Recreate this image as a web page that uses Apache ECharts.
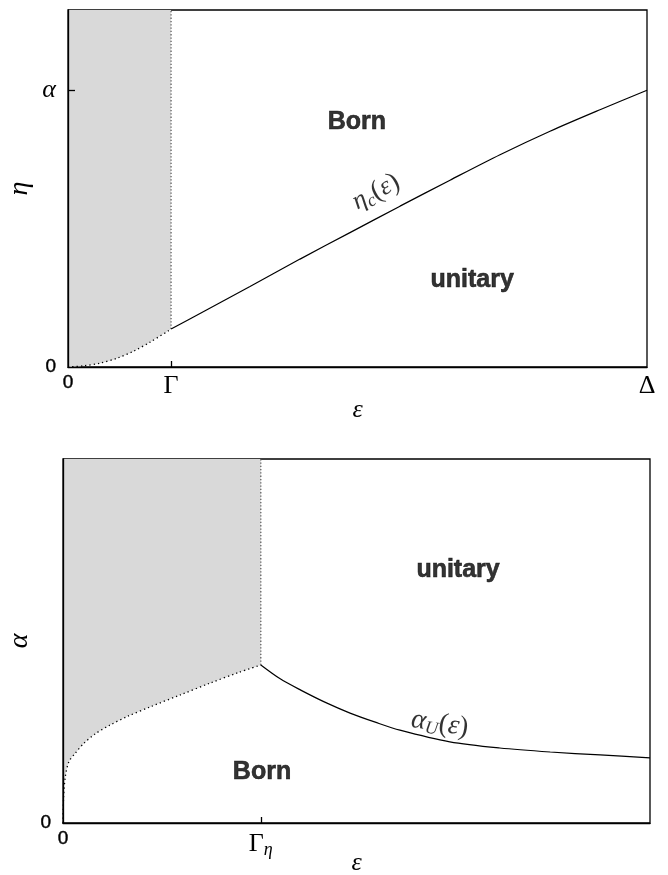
<!DOCTYPE html>
<html>
<head>
<meta charset="utf-8">
<script src="https://cdn.jsdelivr.net/npm/echarts@6/dist/echarts.min.js"></script>
<style>
html,body{margin:0;padding:0;background:#fff;}
#c{width:668px;height:875px;}
</style>
</head>
<body>
<div id="c"></div>
<script>
// ---------- Top panel data (ε in units of Δ, η in units of α) ----------
const topGamma = 0.178;
const topYMax = 1.29;
const topXTickValues = [0, topGamma, 1];
const topXTickLabels = ['0', 'Γ', 'Δ'];
const topYTickValues = [0, 1];
const topYTickLabels = ['0', 'α'];
const topShadeEps = [0, 0.026, 0.055, 0.085, 0.114, 0.142, 0.178];
const topShadeEta = [0, 0.004, 0.014, 0.032, 0.058, 0.090, 0.137];
const topCritEps = [0.178, 0.228, 0.3143, 0.4007, 0.487, 0.5734, 0.6598, 0.7461, 0.8325, 0.9188, 1.0];
const topCritEta = [0.137, 0.1931, 0.2906, 0.3899, 0.4856, 0.5812, 0.6751, 0.7671, 0.852, 0.9296, 1.0];

// ---------- Bottom panel data ----------
const botGamma = 0.337;
const botXTickValues = [0, botGamma];
const botXTickLabels = ['0', 'Γη'];
const botYTickValues = [0];
const botYTickLabels = ['0'];
const botShadeEps = [0, 0.001, 0.004, 0.01, 0.02, 0.035, 0.055, 0.08, 0.11, 0.15, 0.2, 0.25, 0.3, 0.337];
const botShadeAlpha = [0, 0.07, 0.128, 0.168, 0.19, 0.218, 0.245, 0.269, 0.293, 0.32, 0.352, 0.384, 0.414, 0.434];
const botUEps = [0.337, 0.370, 0.405, 0.446, 0.489, 0.532, 0.574, 0.659, 0.744, 0.830, 0.915, 1.0];
const botUAlpha = [0.434, 0.396, 0.365, 0.332, 0.302, 0.277, 0.255, 0.223, 0.206, 0.195, 0.187, 0.179];

const zip = (a, b) => a.map((v, i) => [v, b[i]]);
const SERIF = '"Liberation Serif", "DejaVu Serif", serif';
const SANS = '"Liberation Sans", Arial, sans-serif';

const rich = {
  n: {fontFamily: SANS, fontSize: 19, color: '#000', textBorderColor: '#000', textBorderWidth: 0.4},
  g: {fontFamily: SERIF, fontSize: 26, color: '#000'},
  m: {fontFamily: SERIF, fontStyle: 'italic', fontSize: 26, color: '#000'},
  a: {fontFamily: SERIF, fontStyle: 'italic', fontSize: 28, color: '#000'},
  s: {fontFamily: SERIF, fontStyle: 'italic', fontSize: 18, color: '#000', verticalAlign: 'bottom', padding: [12, 0, 0, 0]},
  p: {fontFamily: SERIF, fontSize: 28, color: '#000'},
  b: {fontFamily: SANS, fontWeight: 'bold', fontSize: 25, color: '#000', textBorderColor: '#000', textBorderWidth: 0.6}
};

function fmt(values, labels) {
  return function (v) {
    for (let i = 0; i < values.length; i++) {
      if (Math.abs(values[i] - v) < 1e-6) {
        const t = labels[i];
        if (t === '0') return '{n|0}';
        if (t === 'α') return '{m|α}';
        if (t === 'Γη') return '{g|Γ}{s|η}';
        return '{g|' + t + '}';
      }
    }
    return '';
  };
}

function xAxis(gridIndex, max, tickVals, labelVals, labels) {
  return {
    type: 'value', gridIndex, min: 0, max, z: 10,
    axisLine: {show: true, onZero: false, lineStyle: {color: '#000', width: 1.3}},
    splitLine: {show: false},
    axisTick: {show: true, inside: true, length: 6, customValues: tickVals, lineStyle: {color: '#000', width: 1.3}},
    axisLabel: {show: true, color: '#000', customValues: labelVals, formatter: fmt(labelVals, labels), rich, margin: 6, showMinLabel: true, showMaxLabel: true},
    nameLocation: 'middle', nameMoveOverlap: false, name: '{m|ε}', nameTextStyle: {rich, color: '#000'}
  };
}
function yAxis(gridIndex, max, tickVals, labelVals, labels, name) {
  return {
    type: 'value', gridIndex, min: 0, max, z: 10,
    axisLine: {show: true, onZero: false, lineStyle: {color: '#000', width: 1.3}},
    splitLine: {show: false},
    axisTick: {show: tickVals.length > 0, inside: true, length: 7, customValues: tickVals, lineStyle: {color: '#000', width: 1.3}},
    axisLabel: {show: true, color: '#000', customValues: labelVals, formatter: fmt(labelVals, labels), rich, margin: 12, showMinLabel: true},
    nameLocation: 'middle', nameMoveOverlap: false, name: '{a|' + name + '}', nameTextStyle: {rich, color: '#000'}
  };
}

function txt(x, y, f, rot) {
  return {value: [x, y], label: {show: true, color: '#000', formatter: f, rotate: rot || 0, position: 'inside', rich}};
}

const xa0 = xAxis(0, 1, [topGamma], topXTickValues, topXTickLabels); xa0.nameGap = 30;
const xa1 = xAxis(1, 1, [botGamma], botXTickValues, botXTickLabels); xa1.nameGap = 27;
const ya0 = yAxis(0, topYMax, [1], topYTickValues, topYTickLabels, 'η'); ya0.nameGap = 34;
const ya1 = yAxis(1, 1, [], botYTickValues, botYTickLabels, 'α'); ya1.nameGap = 29;

const dots = {color: '#000', width: 1.3, type: [1.3, 3]};
const vdots = {color: '#555', width: 1.2, type: [1.3, 2]};

const option = {
  animation: false,
  backgroundColor: '#fff',
  grid: [
    {left: 68, top: 10, width: 579, height: 357, show: true, borderColor: '#000', borderWidth: 1.3, backgroundColor: 'transparent', containLabel: false, outerBoundsMode: 'none'},
    {left: 63, top: 459, width: 587, height: 364, show: true, borderColor: '#000', borderWidth: 1.3, backgroundColor: 'transparent', containLabel: false, outerBoundsMode: 'none'}
  ],
  xAxis: [xa0, xa1],
  yAxis: [ya0, ya1],
  series: [
    {type: 'line', xAxisIndex: 0, yAxisIndex: 0, data: zip(topShadeEps, topShadeEta), symbol: 'none', smooth: 0.3,
     lineStyle: dots, areaStyle: {origin: 'end', color: '#d9d9d9', opacity: 1}, z: 2},
    {type: 'line', xAxisIndex: 0, yAxisIndex: 0, data: [[topGamma, topShadeEta[topShadeEta.length - 1]], [topGamma, topYMax]], symbol: 'none', lineStyle: vdots, z: 3},
    {type: 'line', xAxisIndex: 0, yAxisIndex: 0, data: zip(topCritEps, topCritEta), symbol: 'none', smooth: 0.3,
     lineStyle: {color: '#000', width: 1.2}, z: 3},
    {type: 'scatter', xAxisIndex: 0, yAxisIndex: 0, symbolSize: 0, silent: true, z: 5, data: [
      txt(0.499, 0.884, '{b|Born}'),
      txt(0.698, 0.314, '{b|unitary}'),
      txt(0.532, 0.632, '{m|η}{s|c}{p|(}{m|ε}{p|)}', 28)
    ]},
    {type: 'line', xAxisIndex: 1, yAxisIndex: 1, data: zip(botShadeEps, botShadeAlpha), symbol: 'none', smooth: 0.3,
     lineStyle: dots, areaStyle: {origin: 'end', color: '#d9d9d9', opacity: 1}, z: 2},
    {type: 'line', xAxisIndex: 1, yAxisIndex: 1, data: [[botGamma, botShadeAlpha[botShadeAlpha.length - 1]], [botGamma, 1]], symbol: 'none', lineStyle: vdots, z: 3},
    {type: 'line', xAxisIndex: 1, yAxisIndex: 1, data: zip(botUEps, botUAlpha), symbol: 'none', smooth: 0.3,
     lineStyle: {color: '#000', width: 1.2}, z: 3},
    {type: 'scatter', xAxisIndex: 1, yAxisIndex: 1, symbolSize: 0, silent: true, z: 5, data: [
      txt(0.673, 0.695, '{b|unitary}'),
      txt(0.339, 0.140, '{b|Born}'),
      txt(0.642, 0.272, '{a|α}{s|U}{p|(}{a|ε}{p|)}', -9)
    ]}
  ]
};
const chart = echarts.init(document.getElementById('c'), null, {renderer: 'canvas'});
chart.setOption(option);
</script>
</body>
</html>
